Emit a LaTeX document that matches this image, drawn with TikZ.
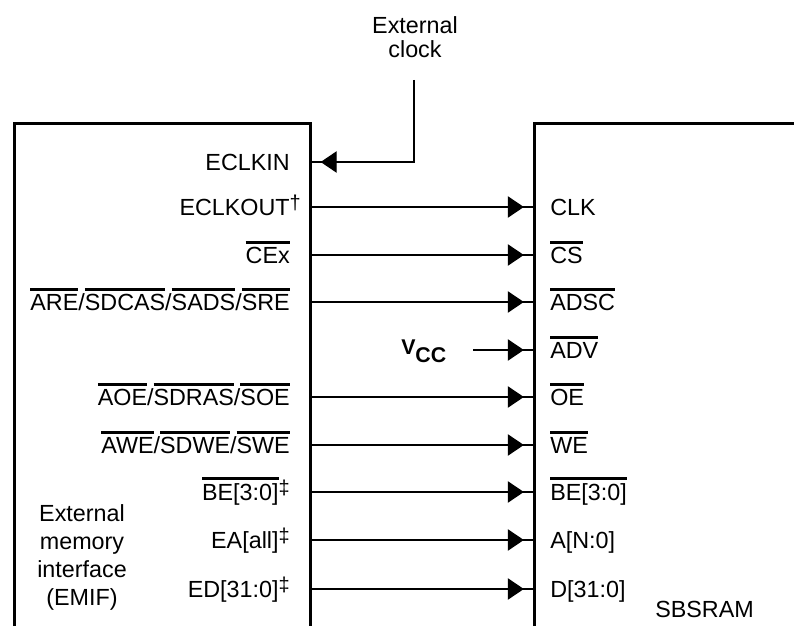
\documentclass[tikz,border=0pt]{standalone}
\usepackage{fontspec}
\setmainfont{Liberation Sans}
\usetikzlibrary{arrows.meta,decorations.markings}

\newcommand\ovl[1]{\setbox0=\hbox{#1}\rlap{\rule[\dimexpr\ht0+2.4pt\relax]{\wd0}{2.6pt}}\box0}
\newcommand\dg[1]{\raisebox{4.5pt}{\fontsize{15}{15}\selectfont #1}}

\tikzset{
  box/.style={line width=2.25pt},
  sig/.style={line width=1pt, postaction={decorate},
    decoration={markings, mark=at position -8pt with {\arrow{Triangle[length=12pt,width=16pt]}}}},
  lpin/.style={anchor=base east, inner sep=0pt, font=\fontsize{17.5}{21}\selectfont},
  rpin/.style={anchor=base west, inner sep=0pt, font=\fontsize{17.5}{21}\selectfont},
  note/.style={inner sep=0pt, align=center}
}

\begin{document}
\begin{tikzpicture}[x=0.75pt,y=0.75pt]
  \useasboundingbox (0,0) rectangle (794,626);
  \draw[box] (14.5,0) |- (310,502.5) -- (310,0);
  \draw[box] (534.5,0) |- (794,502.5);

  % EMIF side
  \node[lpin] (eclkin) at (290,455.5) {ECLKIN};
  \node[lpin] (eclkout) at (290,410.5) {ECLKOUT\rlap{\dg{†}}};
  \node[lpin] (cex) at (290,362.5) {\ovl{CEx}};
  \node[lpin] (are) at (290,315.5) {\ovl{ARE}/\ovl{SDCAS}/\ovl{SADS}/\ovl{SRE}};
  \node[lpin] (aoe) at (290,220.5) {\ovl{AOE}/\ovl{SDRAS}/\ovl{SOE}};
  \node[lpin] (awe) at (290,172.5) {\ovl{AWE}/\ovl{SDWE}/\ovl{SWE}};
  \node[lpin] (bel) at (290,125.5) {\ovl{BE[3:0]}\dg{‡}};
  \node[lpin] (ea) at (290,77.5) {EA[all]\dg{‡}};
  \node[lpin] (ed) at (290,28.5) {ED[31:0]\dg{‡}};
  \node[note, font=\fontsize{17.5}{21}\selectfont] (emif) at (82,69)
    {External\\memory\\interface\\(EMIF)};

  % SBSRAM side
  \node[rpin] (clk) at (550,410.5) {CLK};
  \node[rpin] (cs) at (550,362.5) {\ovl{CS}};
  \node[rpin] (adsc) at (550,315.5) {\ovl{ADSC}};
  \node[rpin] (adv) at (550,267.5) {\ovl{ADV}};
  \node[rpin] (oe) at (550,220.5) {\ovl{OE}};
  \node[rpin] (we) at (550,172.5) {\ovl{WE}};
  \node[rpin] (ber) at (550,125.5) {\ovl{BE[3:0]}};
  \node[rpin] (an) at (550,77.5) {A[N:0]};
  \node[rpin] (dn) at (550,28.5) {D[31:0]};
  \node[anchor=base west, inner sep=0pt, font=\fontsize{17.5}{21}\selectfont] (sbsram) at (655,9) {SBSRAM};

  % clock and supply
  \node[note, font=\fontsize{17.5}{18.5}\selectfont] (xclk) at (415,589) {External\\clock};
  \node[anchor=base west, inner sep=0pt, font=\fontsize{16}{19}\bfseries] (vcc) at (401,271)
    {V\raisebox{-6pt}{CC}};
  \coordinate (xclk-p) at (414,546);
  \coordinate (eclkin-p) at (310,464);
  \coordinate (vcc-p) at (473,276);
  \coordinate (adv-p) at (534.5,276);

  \foreach \n/\y in {eclkout/419,cex/371,are/324,aoe/229,awe/181,bel/134,ea/86,ed/37} {
    \coordinate (\n-p) at (310,\y);
  }
  \foreach \n/\y in {clk/419,cs/371,adsc/324,oe/229,we/181,ber/134,an/86,dn/37} {
    \coordinate (\n-p) at (534.5,\y);
  }

  \draw[sig] (xclk-p) |- (eclkin-p);
  \draw[sig] (vcc-p) -- (adv-p);
  \foreach \a/\b in {eclkout/clk,cex/cs,are/adsc,aoe/oe,awe/we,bel/ber,ea/an,ed/dn} {
    \draw[sig] (\a-p) -- (\b-p);
  }
\end{tikzpicture}
\end{document}
